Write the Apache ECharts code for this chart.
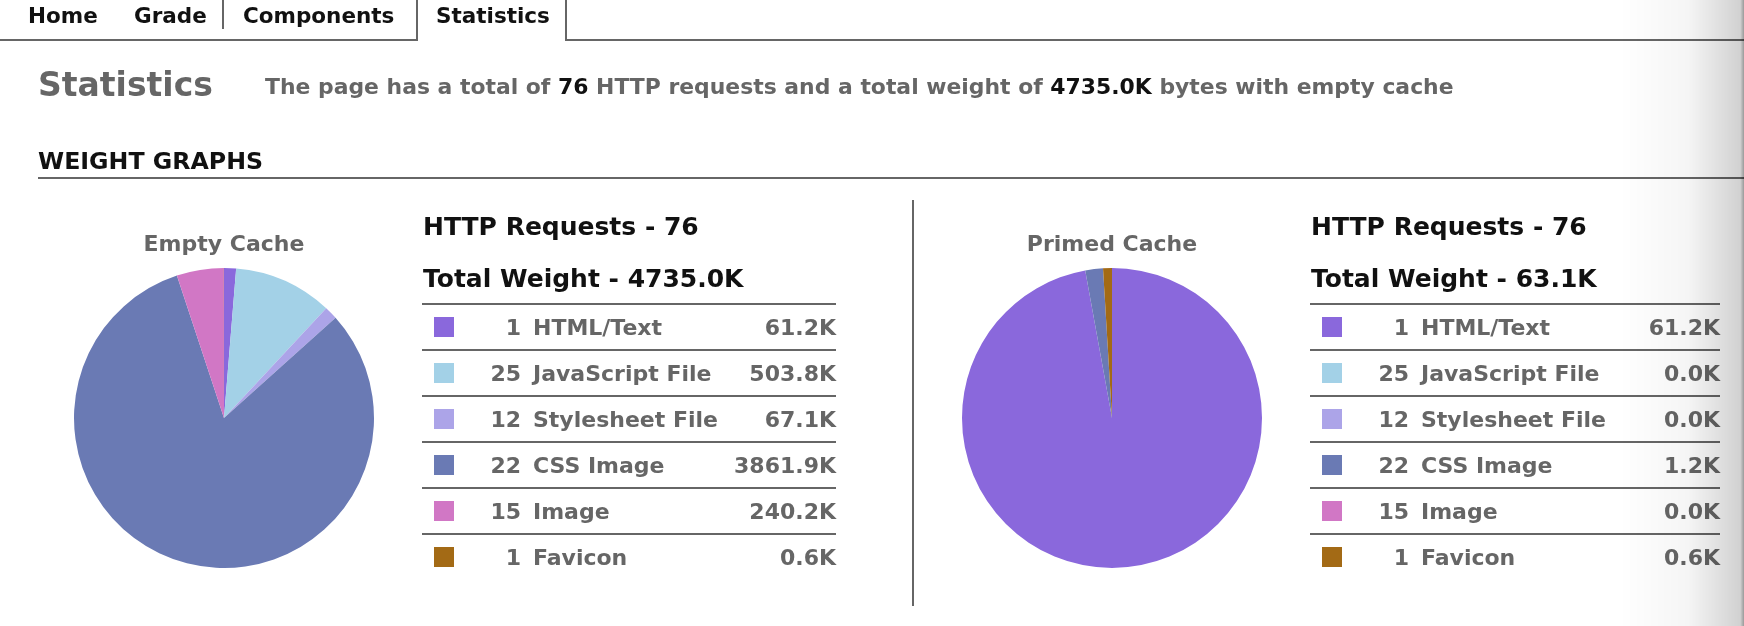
<!DOCTYPE html>
<html><head><meta charset="utf-8">
<script src="https://cdn.jsdelivr.net/npm/echarts@6/dist/echarts.min.js"></script>
<style>
html,body{margin:0;padding:0;background:#fff}
body{width:1744px;height:626px;overflow:hidden;position:relative;font-family:"DejaVu Sans",sans-serif;font-weight:bold}
.t{position:absolute;white-space:nowrap;line-height:1}
.hl{position:absolute;background:#666}
#chart{position:absolute;left:0;top:0;width:1744px;height:626px}
#shade{position:absolute;left:1620px;top:0;width:124px;height:626px;pointer-events:none;
 background:linear-gradient(to right,rgba(0,0,0,0) 0%,rgba(0,0,0,0.04) 55%,rgba(0,0,0,0.18) 97%,rgba(0,0,0,0.4) 100%)}
</style></head><body>
<div id="chart"></div>
<div id="page"></div>
<div id="shade"></div>
<script>
// ---- data ----
const tabs = ['Home', 'Grade', 'Components', 'Statistics'];
const categories = ['HTML/Text', 'JavaScript File', 'Stylesheet File', 'CSS Image', 'Image', 'Favicon'];
const requestCounts = [1, 25, 12, 22, 15, 1];
const emptyCacheKB = [61.2, 503.8, 67.1, 3861.9, 240.2, 0.6];
const primedCacheKB = [61.2, 0.0, 0.0, 1.2, 0.0, 0.6];
const totalRequests = 76;
const emptyTotalKB = 4735.0;
const primedTotalKB = 63.1;
const pieTitles = ['Empty Cache', 'Primed Cache'];
const palette = ['#8a68dc', '#a3d1e7', '#aca4e8', '#6a7ab4', '#d177c5', '#a36a15'];

// ---- page text (HTML) ----
const page = document.getElementById('page');
const ASC = 0.846; // DejaVu baseline offset for line-height:1
function txt(html, x, baseline, fs, color, align) {
  const d = document.createElement('div');
  d.className = 't';
  d.innerHTML = html;
  d.style.fontSize = fs + 'px';
  d.style.color = color;
  d.style.top = (baseline - ASC * fs) + 'px';
  if (align === 'right') { d.style.right = (1744 - x) + 'px'; d.style.textAlign = 'right'; }
  else d.style.left = x + 'px';
  page.appendChild(d);
  return d;
}
function box(x, y, w, h) {
  const d = document.createElement('div');
  d.className = 'hl';
  d.style.left = x + 'px'; d.style.top = y + 'px';
  d.style.width = w + 'px'; d.style.height = h + 'px';
  page.appendChild(d);
}
// tabs
const tabX = [28, 134, 243, 436];
tabs.forEach((t, i) => txt(t, tabX[i], 23, 21.5, '#111'));
box(222, 0, 2, 29);
box(416, 0, 2, 41);
box(565, 0, 2, 41);
box(0, 39, 417, 2);
box(565, 39, 1179, 2);
// heading
txt('Statistics', 38, 96, 33, '#666');
const fmt = v => v.toFixed(1) + 'K';
txt('The page has a total of <span style="color:#111">' + totalRequests +
    '</span> HTTP requests and a total weight of <span style="color:#111">' + fmt(emptyTotalKB) +
    '</span> bytes with empty cache', 265, 95, 21.9, '#666');
txt('WEIGHT GRAPHS', 38, 170, 23.7, '#111');
box(38, 177, 1706, 2);
box(912, 200, 2, 406);

function table(left, right, values, total) {
  txt('HTTP Requests - ' + totalRequests, left + 1, 235, 25, '#111');
  txt('Total Weight - ' + fmt(total), left + 1, 287, 25, '#111');
  categories.forEach((c, i) => {
    const ly = 303 + 46 * i;
    box(left, ly, right - left, 2);
    const sw = document.createElement('div');
    sw.style.cssText = 'position:absolute;width:20px;height:20px;left:' + (left + 12) + 'px;top:' + (ly + 14) + 'px;background:' + palette[i];
    page.appendChild(sw);
    const base = 335.7 + 46 * i;
    txt(String(requestCounts[i]), left + 99, base, 22, '#666', 'right');
    txt(c, left + 111, base, 22, '#666');
    txt(fmt(values[i]), right, base, 22, '#666', 'right');
  });
}
table(422, 836, emptyCacheKB, emptyTotalKB);
table(1310, 1720, primedCacheKB, primedTotalKB);

// ---- pies (ECharts) ----
const chart = echarts.init(document.getElementById('chart'), null, {renderer: 'canvas'});
const centers = [[224, 418], [1112, 418]];
function pieSeries(vals, ci) {
  return {
    type: 'pie', center: centers[ci], radius: 150, startAngle: 90, clockwise: true,
    silent: true, animation: false, avoidLabelOverlap: false, minAngle: 0,
    label: {show: false}, labelLine: {show: false},
    itemStyle: {borderWidth: 0},
    data: categories.map((c, i) => ({name: c, value: vals[i], itemStyle: {color: palette[i]}}))
  };
}
chart.setOption({
  animation: false,
  series: [pieSeries(emptyCacheKB, 0), pieSeries(primedCacheKB, 1)],
  graphic: pieTitles.map((t, i) => ({
    type: 'text', x: centers[i][0], y: 245,
    style: {text: t, align: 'center', verticalAlign: 'middle', font: 'bold 22px "DejaVu Sans"', fill: '#666'}
  }))
});
</script>
</body></html>
